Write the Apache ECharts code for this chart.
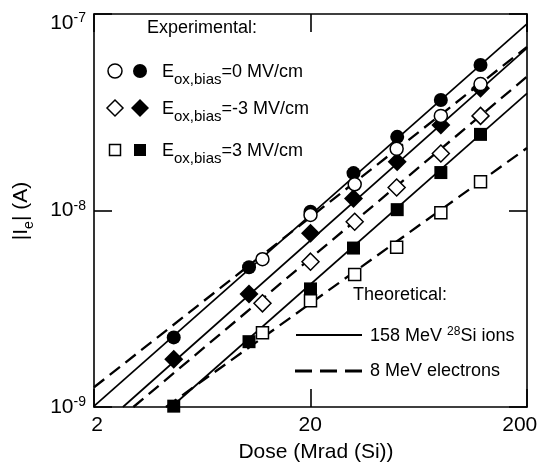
<!DOCTYPE html>
<html>
<head>
<meta charset="utf-8">
<script src="https://cdn.jsdelivr.net/npm/echarts@6/dist/echarts.min.js"></script>
<style>
  html, body { margin: 0; padding: 0; background: #fff; }
  #chart { width: 541px; height: 464px; }
</style>
</head>
<body>
<div id="chart"></div>
<script>
// Dose (Mrad (Si)) at which each current was measured
const doseIons = [4.67, 10.4, 20, 31.6, 50.3, 80, 122];
const doseElectrons = [12, 20, 32, 50, 80, 122];

// |Ie| (A), filled symbols: 158 MeV 28Si ions; open symbols: 8 MeV electrons
const ionsBias0 = [2.26e-9, 5.14e-9, 9.86e-9, 15.5e-9, 23.7e-9, 36.5e-9, 55.0e-9];
const electronsBias0 = [5.65e-9, 9.49e-9, 13.6e-9, 20.6e-9, 30.3e-9, 44.0e-9];
const ionsBiasNeg3 = [1.75e-9, 3.76e-9, 7.66e-9, 11.5e-9, 17.7e-9, 27.2e-9, 41.9e-9];
const electronsBiasNeg3 = [3.37e-9, 5.49e-9, 8.77e-9, 13.1e-9, 19.5e-9, 30.3e-9];
const ionsBias3 = [1.01e-9, 2.15e-9, 3.99e-9, 6.44e-9, 10.1e-9, 15.6e-9, 24.4e-9];
const electronsBias3 = [2.39e-9, 3.47e-9, 4.73e-9, 6.50e-9, 9.74e-9, 14.0e-9];

// Theoretical curves: [dose, current] end points of each straight log-log line
const theoryIonsBias0 = [[2, 1.01e-9], [200, 8.9e-8]];
const theoryElectronsBias0 = [[2, 1.26e-9], [200, 6.8e-8]];
const theoryIonsBiasNeg3 = [[2.72, 1e-9], [200, 6.7e-8]];
const theoryElectronsBiasNeg3 = [[3.04, 1e-9], [200, 4.8e-8]];
const theoryIonsBias3 = [[4.55, 1e-9], [200, 3.94e-8]];
const theoryElectronsBias3 = [[4.3, 1e-9], [200, 2.08e-8]];

// Axis ranges and tick labels
const xRange = [2, 200];
const yRange = [1e-9, 1e-7];
const xTickLabels = ['2', '20', '200'];

const FONT = '"Liberation Sans", Arial, Helvetica, sans-serif';
const INK = '#000';

function pairs(xs, ys) { return ys.map((y, i) => [xs[i], y]); }

function theoryLine(data, dashed) {
  return {
    type: 'line', data: data, symbol: 'none', silent: true, z: 2,
    clip: true,
    lineStyle: { color: INK, width: dashed ? 2.3 : 1.7, type: dashed ? [13, 7] : 'solid', opacity: 1 }
  };
}

function markers(data, symbol, size, open) {
  return {
    type: 'scatter', data: data, symbol: symbol, symbolSize: size, clip: false,
    z: open ? 4 : 3, silent: true,
    itemStyle: open
      ? { color: '#fff', borderColor: INK, borderWidth: 1.5, opacity: 1 }
      : { color: INK, borderWidth: 0, opacity: 1 }
  };
}

const axisLineStyle = { color: INK, width: 1.6 };

function xAxisDef(position, labels) {
  return {
    type: 'log', logBase: 10, min: xRange[0], max: xRange[1], interval: 1,
    position: position,
    axisLine: { show: true, onZero: false, lineStyle: axisLineStyle },
    axisTick: { show: true, inside: true, length: 18, lineStyle: axisLineStyle },
    minorTick: { show: false },
    splitLine: { show: false },
    axisLabel: labels ? {
      show: true, margin: 8,
      formatter: function (v) {
        const idx = Math.round(Math.log10(v / xRange[0]));
        const t = xTickLabels[idx] !== undefined ? xTickLabels[idx] : String(v);
        if (idx === 0) return '{l|' + t + '}';
        if (idx === xTickLabels.length - 1) return '{r|' + t + '}';
        return '{c|' + t + '}';
      },
      rich: {
        l: { fontSize: 21, fontFamily: FONT, color: INK, padding: [0, 0, 0, 6] },
        c: { fontSize: 21, fontFamily: FONT, color: INK },
        r: { fontSize: 21, fontFamily: FONT, color: INK, padding: [0, 14, 0, 0] }
      }
    } : { show: false }
  };
}

function yAxisDef(position, labels) {
  return {
    type: 'log', logBase: 10, min: yRange[0], max: yRange[1],
    position: position,
    axisLine: { show: true, onZero: false, lineStyle: axisLineStyle },
    axisTick: { show: true, inside: true, length: 18, lineStyle: axisLineStyle },
    minorTick: { show: false },
    splitLine: { show: false },
    axisLabel: labels ? {
      show: true, margin: 8,
      formatter: function (v) {
        const e = Math.round(Math.log10(v));
        // the top label sits a little below its tick
        if (e === Math.round(Math.log10(yRange[1]))) {
          return '{bt|10}{st|' + e + '}';
        }
        return '{b|10}{s|' + e + '}';
      },
      rich: {
        b: { fontSize: 21, fontFamily: FONT, color: INK },
        s: { fontSize: 14, fontFamily: FONT, color: INK, padding: [0, 0, 9, 0] },
        bt: { fontSize: 21, fontFamily: FONT, color: INK, padding: [18, 0, 0, 0] },
        st: { fontSize: 14, fontFamily: FONT, color: INK, padding: [9, 0, 0, 0] }
      }
    } : { show: false }
  };
}

// In-plot key: symbol pairs and line samples
const keyRows = [
  { y: 71, sym: 'circle', text: '=0 MV/cm' },
  { y: 108, sym: 'diamond', text: '=-3 MV/cm' },
  { y: 150, sym: 'square', text: '=3 MV/cm' }
];

function keySymbol(kind, cx, cy, open) {
  const style = open
    ? { fill: '#fff', stroke: INK, lineWidth: 1.5 }
    : { fill: INK, stroke: null, lineWidth: 0 };
  if (kind === 'circle') {
    return { type: 'circle', shape: { cx: cx, cy: cy, r: 7 }, style: style, z: 10 };
  }
  if (kind === 'diamond') {
    const h = open ? 8 : 9;
    return { type: 'polygon', shape: { points: [[cx, cy - h], [cx + h, cy], [cx, cy + h], [cx - h, cy]] }, style: style, z: 10 };
  }
  const s = open ? 11 : 12;
  return { type: 'rect', shape: { x: cx - s / 2, y: cy - s / 2, width: s, height: s }, style: style, z: 10 };
}

const keyGraphics = [];
keyGraphics.push({
  type: 'text', x: 147, y: 28, z: 10,
  style: { text: 'Experimental:', fontSize: 18, fontFamily: FONT, fill: INK, align: 'left', verticalAlign: 'middle' }
});
keyRows.forEach(function (row) {
  keyGraphics.push(keySymbol(row.sym, 115, row.y, true));
  keyGraphics.push(keySymbol(row.sym, 140, row.y, false));
  keyGraphics.push({
    type: 'text', x: 162, y: row.y + 1, z: 10,
    style: {
      text: '{m|E}{s|ox,bias}{m|' + row.text + '}',
      align: 'left', verticalAlign: 'middle', fill: INK,
      rich: {
        m: { fontSize: 18, fontFamily: FONT, fill: INK },
        s: { fontSize: 15, fontFamily: FONT, fill: INK, padding: [16, 0, 0, 0] }
      }
    }
  });
});
keyGraphics.push({
  type: 'text', x: 353, y: 295, z: 10,
  style: { text: 'Theoretical:', fontSize: 18, fontFamily: FONT, fill: INK, align: 'left', verticalAlign: 'middle' }
});
keyGraphics.push({
  type: 'line', z: 10, shape: { x1: 296, y1: 335, x2: 362, y2: 335 },
  style: { stroke: INK, lineWidth: 2 }
});
keyGraphics.push({
  type: 'line', z: 10, shape: { x1: 295, y1: 371, x2: 362, y2: 371 },
  style: { stroke: INK, lineWidth: 3, lineDash: [17, 8] }
});
keyGraphics.push({
  type: 'text', x: 370, y: 336, z: 10,
  style: {
    text: '{m|158 MeV }{p|28}{m|Si ions}',
    align: 'left', verticalAlign: 'middle', fill: INK,
    rich: {
      m: { fontSize: 18, fontFamily: FONT, fill: INK },
      p: { fontSize: 12, fontFamily: FONT, fill: INK, padding: [0, 0, 9, 0] }
    }
  }
});
keyGraphics.push({
  type: 'text', x: 370, y: 371, z: 10,
  style: { text: '8 MeV electrons', fontSize: 18, fontFamily: FONT, fill: INK, align: 'left', verticalAlign: 'middle' }
});

// Axis titles
keyGraphics.push({
  type: 'text', x: 316, y: 452, z: 10,
  style: { text: 'Dose (Mrad (Si))', fontSize: 21, fontFamily: FONT, fill: INK, align: 'center', verticalAlign: 'middle' }
});
keyGraphics.push({
  type: 'text', x: 21, y: 211, z: 10, rotation: Math.PI / 2,
  style: {
    text: '{m||I}{s|e}{m|| (A)}',
    align: 'center', verticalAlign: 'middle', fill: INK,
    rich: {
      m: { fontSize: 21, fontFamily: FONT, fill: INK },
      s: { fontSize: 14, fontFamily: FONT, fill: INK, padding: [16, 0, 0, 0] }
    }
  }
});

const chart = echarts.init(document.getElementById('chart'), null, { renderer: 'canvas' });
chart.setOption({
  animation: false,
  backgroundColor: '#fff',
  textStyle: { fontFamily: FONT },
  grid: { left: 94, right: 14, top: 14, bottom: 57, containLabel: false, outerBoundsMode: 'none' },
  xAxis: [xAxisDef('bottom', true), xAxisDef('top', false)],
  yAxis: [yAxisDef('left', true), yAxisDef('right', false)],
  series: [
    theoryLine(theoryIonsBias0, false),
    theoryLine(theoryElectronsBias0, true),
    theoryLine(theoryIonsBiasNeg3, false),
    theoryLine(theoryElectronsBiasNeg3, true),
    theoryLine(theoryIonsBias3, false),
    theoryLine(theoryElectronsBias3, true),
    markers(pairs(doseIons, ionsBias0), 'circle', 14, false),
    markers(pairs(doseIons, ionsBiasNeg3), 'diamond', 19, false),
    markers(pairs(doseIons, ionsBias3), 'rect', 13, false),
    markers(pairs(doseElectrons, electronsBias0), 'circle', 13, true),
    markers(pairs(doseElectrons, electronsBiasNeg3), 'diamond', 17, true),
    markers(pairs(doseElectrons, electronsBias3), 'rect', 12, true)
  ],
  graphic: keyGraphics
});
</script>
</body>
</html>
